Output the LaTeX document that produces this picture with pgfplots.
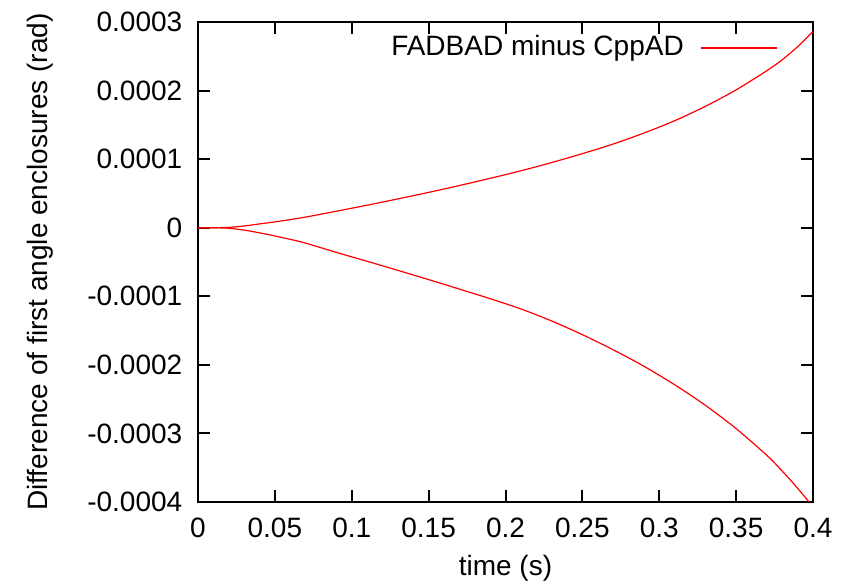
\documentclass[border=0pt]{standalone}
\usepackage{fontspec}
\setmainfont{Liberation Sans}
\usepackage{pgfplots}
\pgfplotsset{compat=1.18}

% upper and lower bound of the difference, in units of 1e-4 rad
\pgfplotstableread{
t v
0    0
0.01 0
0.02 0.005
0.03 0.025
0.04 0.055
0.05 0.085
0.06 0.118
0.07 0.155
0.09 0.24
0.11 0.328
0.13 0.42
0.15 0.515
0.17 0.615
0.19 0.72
0.21 0.83
0.23 0.95
0.25 1.08
0.27 1.22
0.29 1.38
0.31 1.56
0.33 1.77
0.35 2.01
0.37 2.29
0.38 2.45
0.39 2.64
0.40 2.86
}\upperdata
\pgfplotstableread{
t v
0    0
0.01 -0.001
0.02 -0.008
0.03 -0.035
0.04 -0.075
0.05 -0.12
0.06 -0.17
0.07 -0.225
0.09 -0.36
0.11 -0.49
0.13 -0.622
0.15 -0.757
0.17 -0.895
0.19 -1.035
0.21 -1.185
0.23 -1.36
0.25 -1.56
0.27 -1.78
0.29 -2.02
0.31 -2.29
0.33 -2.59
0.35 -2.93
0.37 -3.32
0.38 -3.55
0.39 -3.80
0.40 -4.07
}\lowerdata

\begin{document}
\begin{tikzpicture}
\fontsize{14}{16}\selectfont
\begin{axis}[
    scale only axis,
    width=307.5pt, height=240pt,
    xmin=0, xmax=0.4,
    ymin=-4, ymax=3,
    xtick={0,0.05,...,0.4},
    xticklabels={0,0.05,0.1,0.15,0.2,0.25,0.3,0.35,0.4},
    ytick={-4,-3,...,3},
    yticklabels={-0.0004,-0.0003,-0.0002,-0.0001,0,0.0001,0.0002,0.0003},
    scaled ticks=false,
    tick align=inside,
    major tick length=6pt,
    tick style={black, line width=1pt},
    axis line style={line width=1pt},
    ticklabel style={font=\fontsize{14}{16}\selectfont},
    yticklabel style={xshift=-3pt},
    xticklabel style={yshift=-3pt},
    xlabel={time (s)},
    ylabel={Difference of first angle enclosures (rad)},
    label style={font=\fontsize{14}{16}\selectfont},
    xlabel style={at={(axis description cs:0.5,-0.138)}, anchor=center},
    ylabel style={at={(axis description cs:-0.257,0.5)}, anchor=center},
    legend plot pos=right,
    legend image code/.code={\draw[red, draw=red, line width=0.9pt] (0pt,0pt) -- (38pt,0pt);},
    legend style={draw=none, fill=none, inner sep=0pt,
        at={(axis description cs:1,1)}, anchor=north east,
        xshift=-17.5pt, yshift=-4.5pt,
        font=\fontsize{14}{16}\selectfont,
        nodes={inner sep=2pt}, column sep=6pt},
    clip=true,
]
\addplot[red, line width=0.6pt, smooth] table[x=t, y=v] {\upperdata};
\addlegendentry{FADBAD minus CppAD}
\addplot[red, line width=0.6pt, smooth, forget plot] table[x=t, y=v] {\lowerdata};
\end{axis}
\pgfresetboundingbox
\path (current axis.south west) ++(-99pt,-41pt) coordinate (bl);
\path (current axis.north east) ++(21pt,11pt) coordinate (tr);
\path (bl) rectangle (tr);
\end{tikzpicture}
\end{document}
